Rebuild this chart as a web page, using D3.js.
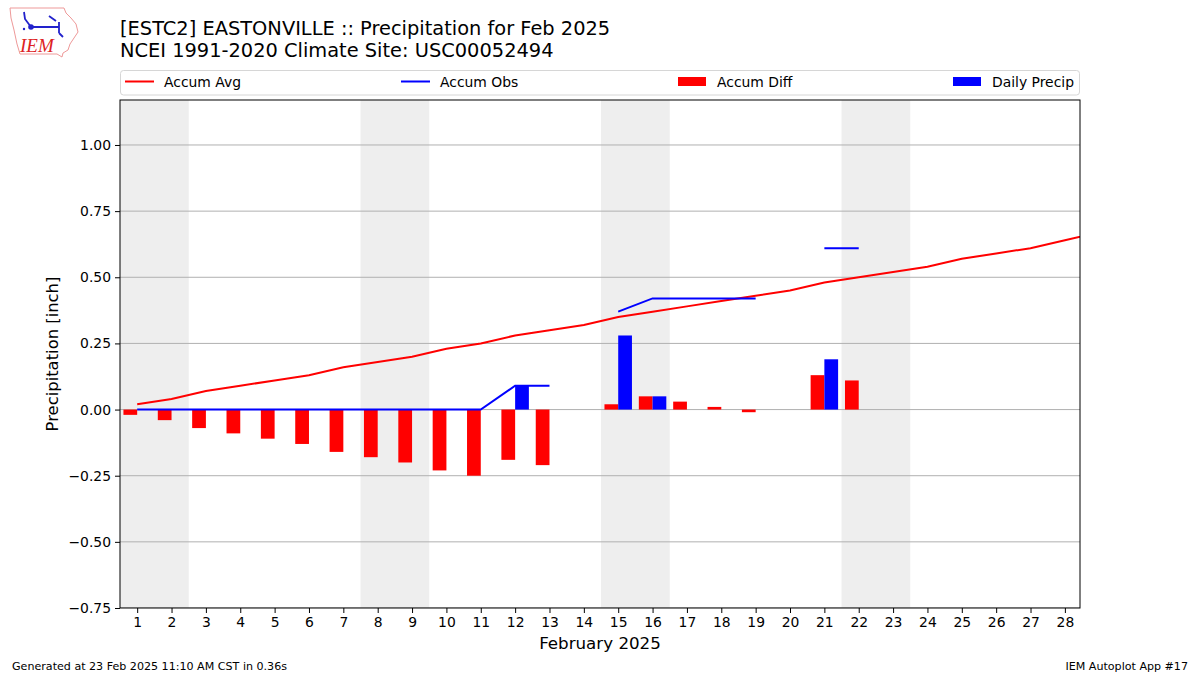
<!DOCTYPE html>
<html><head><meta charset="utf-8">
<script src="https://cdn.jsdelivr.net/npm/d3@7"></script>
<style>
body{margin:0;background:#fff;}
svg{font-family:"DejaVu Sans",sans-serif;}
</style></head>
<body><svg id="chart" width="1200" height="675"></svg>
<script>
const days = d3.range(1, 29);
const accumAvg = [0.02,0.04,0.07,0.09,0.11,0.13,0.16,0.18,0.20,0.23,0.25,0.28,0.30,0.32,0.35,0.37,0.39,0.41,0.43,0.45,0.48,0.50,0.52,0.54,0.57,0.59,0.61,0.64,0.67];
const accumObs = [0,0,0,0,0,0,0,0,0,0,0,0.09,0.09,null,0.37,0.42,0.42,0.42,0.42,null,0.61,0.61,null,null,null,null,null,null];
const accumDiff = [-0.02,-0.04,-0.07,-0.09,-0.11,-0.13,-0.16,-0.18,-0.20,-0.23,-0.25,-0.19,-0.21,null,0.02,0.05,0.03,0.01,-0.01,null,0.13,0.11,null,null,null,null,null,null];
const dailyPrecip = [0,0,0,0,0,0,0,0,0,0,0,0.09,0,null,0.28,0.05,0,0,0,null,0.19,0,null,null,null,null,null,null];
const weekends = [[0.5,2.5],[7.5,9.5],[14.5,16.5],[21.5,23.5]];
const yTicks = [-0.75,-0.5,-0.25,0,0.25,0.5,0.75,1.0];
const titleLines = ["[ESTC2] EASTONVILLE :: Precipitation for Feb 2025","NCEI 1991-2020 Climate Site: USC00052494"];
const legendItems = [["Accum Avg","line","#ff0000"],["Accum Obs","line","#0000ff"],["Accum Diff","patch","#ff0000"],["Daily Precip","patch","#0000ff"]];

const svg = d3.select("#chart");
const L=120,R=1080,T=100,B=608;
const x = d3.scaleLinear().domain([0.5,28.44]).range([L,R]);
const y = d3.scaleLinear().domain([-0.75,1.17]).range([B,T]);

svg.append("defs").append("clipPath").attr("id","clip").append("rect")
  .attr("x",L).attr("y",T).attr("width",R-L).attr("height",B-T);
const g = svg.append("g").attr("clip-path","url(#clip)");

// weekend shading
g.selectAll("rect.wk").data(weekends).join("rect")
  .attr("x",d=>x(d[0])).attr("width",d=>x(d[1])-x(d[0]))
  .attr("y",T).attr("height",B-T).attr("fill","#eeeeee");

// grid
g.selectAll("line.grid").data(yTicks).join("line")
  .attr("x1",L).attr("x2",R).attr("y1",d=>y(d)).attr("y2",d=>y(d))
  .attr("stroke","#b0b0b0").attr("stroke-width",1);

const bw = 0.4;
g.selectAll("rect.diff").data(days.filter((d,i)=>accumDiff[i]!==null && accumDiff[i]!==0)).join("rect")
  .attr("x",d=>x(d-bw)).attr("width",d=>x(d)-x(d-bw))
  .attr("y",d=>y(Math.max(0,accumDiff[d-1]))).attr("height",d=>Math.abs(y(accumDiff[d-1])-y(0)))
  .attr("fill","#ff0000");
g.selectAll("rect.dp").data(days.filter((d,i)=>dailyPrecip[i])).join("rect")
  .attr("x",d=>x(d)).attr("width",d=>x(d+bw)-x(d))
  .attr("y",d=>y(dailyPrecip[d-1])).attr("height",d=>y(0)-y(dailyPrecip[d-1]))
  .attr("fill","#0000ff");

const avgLine = d3.line().x((d,i)=>x(i+1)).y(d=>y(d));
g.append("path").datum(accumAvg).attr("d",avgLine).attr("fill","none").attr("stroke","#ff0000").attr("stroke-width",2);
const obsLine = d3.line().defined(d=>d!==null).x((d,i)=>x(i+1)).y(d=>y(d));
g.append("path").datum(accumObs).attr("d",obsLine).attr("fill","none").attr("stroke","#0000ff").attr("stroke-width",2);

svg.append("rect").attr("x",L).attr("y",T).attr("width",R-L).attr("height",B-T)
  .attr("fill","none").attr("stroke","#000").attr("stroke-width",1);

const xAxis = d3.axisBottom(x).tickValues(days).tickFormat(d3.format("d")).tickSize(5).tickPadding(4);
const xa = svg.append("g").attr("transform",`translate(0,${B})`).call(xAxis);
xa.select(".domain").remove();
xa.selectAll("text").attr("font-size",13.9).attr("font-family","DejaVu Sans").attr("fill","#000");
const yAxis = d3.axisLeft(y).tickValues(yTicks).tickFormat(d=>d3.format(".2f")(d).replace("-","\u2212")).tickSize(5).tickPadding(4);
const ya = svg.append("g").attr("transform",`translate(${L},0)`).call(yAxis);
ya.select(".domain").remove();
ya.selectAll("text").attr("font-size",13.9).attr("font-family","DejaVu Sans").attr("fill","#000");

svg.append("text").attr("x",(L+R)/2).attr("y",649).attr("text-anchor","middle").attr("font-size",16.7).text("February 2025");
svg.append("text").attr("transform",`translate(58,${(T+B)/2}) rotate(-90)`).attr("text-anchor","middle").attr("font-size",16.4).text("Precipitation [inch]");

svg.selectAll("text.title").data(titleLines).join("text")
  .attr("x",120).attr("y",(d,i)=>35+i*22).attr("font-size",19.4).text(d=>d);

svg.append("rect").attr("x",120.5).attr("y",70.5).attr("width",959).attr("height",24.5).attr("rx",3)
  .attr("fill","#fff").attr("stroke","#d6d6d6");
const lx = [125,401,678,953];
legendItems.forEach((it,i)=>{
  const gx = lx[i];
  if(it[1]==="line") svg.append("line").attr("x1",gx).attr("x2",gx+29).attr("y1",81.5).attr("y2",81.5).attr("stroke",it[2]).attr("stroke-width",2);
  else svg.append("rect").attr("x",gx).attr("y",77).attr("width",28).attr("height",9).attr("fill",it[2]);
  svg.append("text").attr("x",gx+39).attr("y",86.5).attr("font-size",13.9).text(it[0]);
});

svg.append("text").attr("x",12).attr("y",670).attr("font-size",11.1).text("Generated at 23 Feb 2025 11:10 AM CST in 0.36s");
svg.append("text").attr("x",1188).attr("y",670).attr("text-anchor","end").attr("font-size",11.1).text("IEM Autoplot App #17");

// logo
const logo = svg.append("g");
logo.append("path").attr("d","M10,8 L64,8 L66,13 L71,18 L76,24 L78,32 L74,38 L70,44 L68,50 L63,53 L62,57 L57,54 L20,54 L17,44 L14,30 L11,18 Z")
  .attr("fill","#fff").attr("stroke","#e99").attr("stroke-width",1);
logo.append("text").attr("x",20).attr("y",52).attr("font-family","Liberation Serif,serif").attr("font-style","italic").attr("font-size",19).attr("fill","#d22").text("IEM");
logo.append("path").attr("d","M31,27 L59,27 M59,22 L59,33 M24,12 L25,19 L31,27 M49,16 L56,21 M59,33 L63,37").attr("stroke","#22c").attr("stroke-width",1.8).attr("fill","none");
logo.append("circle").attr("cx",31).attr("cy",27).attr("r",2.8).attr("fill","#22c");
logo.append("circle").attr("cx",24).attr("cy",29).attr("r",1.2).attr("fill","#22c");
</script></body></html>
